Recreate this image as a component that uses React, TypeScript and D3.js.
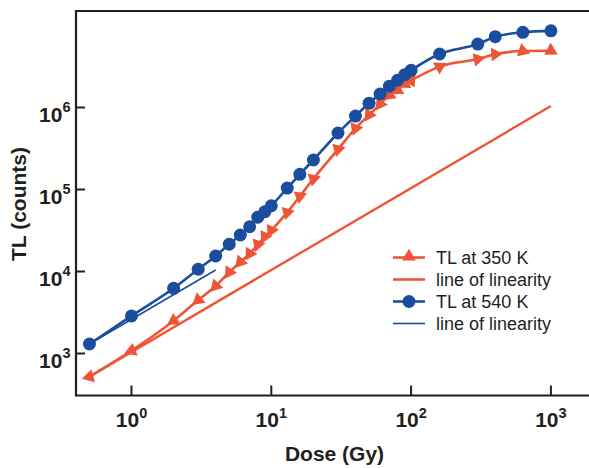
import React from 'react';
import * as d3 from 'd3';

// ---- data ----
const doses = [0.5, 1, 2, 3, 4, 5, 6, 7, 8, 9, 10, 13, 16, 20, 30, 40, 50, 60, 70, 80, 90, 100, 160, 300, 400, 630, 1000];
const tl350K = [521, 1082, 2510, 4490, 6650, 9780, 13060, 16500, 21300, 26700, 31800, 52500, 82600, 135000, 309000, 557000, 811000, 1.1e6, 1.41e6, 1.63e6, 1.94e6, 2.14e6, 3.15e6, 3.9e6, 4.46e6, 4.89e6, 4.93e6];
const tl540K = [1305, 2870, 6240, 10650, 15450, 21500, 27850, 35150, 46000, 53600, 63400, 104000, 153000, 229000, 489000, 787000, 1.125e6, 1.46e6, 1.82e6, 2.15e6, 2.51e6, 2.84e6, 4.49e6, 5.94e6, 7.3e6, 8.26e6, 8.6e6];
const linearity350Dose = [0.5, 1000];
const linearity350 = [521, 1.042e6];
const linearity540Dose = [0.5, 4];
const linearity540 = [1305, 10440];
const xTickExponents = [0, 1, 2, 3];
const yTickExponents = [3, 4, 5, 6];
const legendLabels = ['TL at 350 K', 'line of linearity', 'TL at 540 K', 'line of linearity'];
const xTitle = 'Dose (Gy)';
const yTitle = 'TL (counts)';

// ---- layout ----
const W = 589;
const H = 468;
const AX_LEFT = 76;
const AX_RIGHT = 589;
const AX_TOP = 11;
const AX_BOTTOM = 395.5;
const X_AT_1 = 131.5;
const X_DEC = 139.8;
const Y_AT_1E3 = 353.5;
const Y_DEC = 82;

const RED = '#ee5536';
const BLUE = '#1b4d9e';
const INK = '#231f20';
const FONT = '"Liberation Sans", Arial, Helvetica, sans-serif';

export default function App() {
  const x = d3
    .scaleLog()
    .domain([Math.pow(10, (AX_LEFT - X_AT_1) / X_DEC), Math.pow(10, (AX_RIGHT - X_AT_1) / X_DEC)])
    .range([AX_LEFT, AX_RIGHT]);
  const y = d3
    .scaleLog()
    .domain([
      Math.pow(10, 3 - (AX_BOTTOM - Y_AT_1E3) / Y_DEC),
      Math.pow(10, 3 + (Y_AT_1E3 - AX_TOP) / Y_DEC),
    ])
    .range([AX_BOTTOM, AX_TOP]);

  const pts350 = doses.map((d, i) => [x(d), y(tl350K[i])] as [number, number]);
  const pts540 = doses.map((d, i) => [x(d), y(tl540K[i])] as [number, number]);
  const lin350 = linearity350Dose.map((d, i) => [x(d), y(linearity350[i])] as [number, number]);
  const lin540 = linearity540Dose.map((d, i) => [x(d), y(linearity540[i])] as [number, number]);

  const curve = d3.line().curve(d3.curveMonotoneX);
  const straight = d3.line();

  const tri = d3.symbol(d3.symbolTriangle, 80)() as string;
  const triLegend = d3.symbol(d3.symbolTriangle, 80)() as string;

  const triRot = (i: number) => {
    const p = pts350[Math.max(0, i - 1)];
    const n = pts350[Math.min(pts350.length - 1, i + 1)];
    const theta = (Math.atan2(-(n[1] - p[1]), n[0] - p[0]) * 180) / Math.PI;
    return -3.3 * theta;
  };

  const legendX0 = 393;
  const legendX1 = 425;
  const legendTextX = 436;
  const legendY0 = 257.5;
  const legendDY = 22;

  return (
    <svg
      width={W}
      height={H}
      style={{ position: 'absolute', left: 0, top: 0, background: '#fff' }}
      fontFamily={FONT}
    >
      <rect x={0} y={0} width={W} height={H} fill="#fff" />

      {/* linearity lines */}
      <path d={straight(lin350) as string} fill="none" stroke={RED} strokeWidth={2.4} />
      <path d={straight(lin540) as string} fill="none" stroke={BLUE} strokeWidth={1.6} />

      {/* data lines */}
      <path d={curve(pts350) as string} fill="none" stroke={RED} strokeWidth={2.6} />
      <path d={curve(pts540) as string} fill="none" stroke={BLUE} strokeWidth={2.6} />

      {/* markers */}
      {pts350.map((p, i) => (
        <path key={'t' + i} d={tri} fill={RED} transform={`translate(${p[0]},${p[1]}) rotate(${triRot(i)})`} />
      ))}
      {pts540.map((p, i) => (
        <circle key={'c' + i} cx={p[0]} cy={p[1]} r={6.5} fill={BLUE} />
      ))}

      {/* axes frame */}
      <g stroke={INK} strokeWidth={2.2} fill="none">
        <line x1={AX_LEFT} x2={W} y1={AX_TOP} y2={AX_TOP} />
        <line x1={AX_LEFT} x2={AX_LEFT} y1={AX_TOP - 1.1} y2={AX_BOTTOM + 1.1} />
        <line x1={AX_LEFT} x2={W} y1={AX_BOTTOM} y2={AX_BOTTOM} />
        {xTickExponents.map((e) => (
          <line key={'xt' + e} x1={x(Math.pow(10, e))} x2={x(Math.pow(10, e))} y1={AX_BOTTOM} y2={AX_BOTTOM - 10} strokeWidth={2} />
        ))}
        {yTickExponents.map((e) => (
          <line key={'yt' + e} x1={AX_LEFT} x2={AX_LEFT + 9} y1={y(Math.pow(10, e))} y2={y(Math.pow(10, e))} strokeWidth={2} />
        ))}
      </g>

      {/* tick labels */}
      {xTickExponents.map((e) => (
        <text key={'xl' + e} x={x(Math.pow(10, e))} y={426.5} textAnchor="middle" fontWeight="bold" fontSize={21} fill={INK}>
          <tspan>10</tspan>
          <tspan dy={-8.5} fontSize={14.5}>{e}</tspan>
        </text>
      ))}
      {yTickExponents.map((e) => (
        <text key={'yl' + e} x={70.5} y={y(Math.pow(10, e)) + 14.4} textAnchor="end" fontWeight="bold" fontSize={21} fill={INK}>
          <tspan>10</tspan>
          <tspan dy={-9.5} fontSize={14.5}>{e}</tspan>
        </text>
      ))}

      {/* axis titles */}
      <text x={334.5} y={460.5} textAnchor="middle" fontWeight="bold" fontSize={21} fill={INK}>
        {xTitle}
      </text>
      <text
        transform={`translate(25.5,204) rotate(-90)`}
        textAnchor="middle"
        fontWeight="bold"
        fontSize={21}
        fill={INK}
      >
        {yTitle}
      </text>

      {/* legend */}
      {legendLabels.map((lab, i) => {
        const ly = legendY0 + i * legendDY;
        const color = i < 2 ? RED : BLUE;
        const sw = i === 3 ? 1.6 : 2.6;
        return (
          <g key={'lg' + i}>
            <line x1={legendX0} x2={legendX1} y1={ly} y2={ly} stroke={color} strokeWidth={sw} />
            {i === 0 && <path d={triLegend} fill={RED} transform={`translate(${(legendX0 + legendX1) / 2},${ly - 1})`} />}
            {i === 2 && <circle cx={(legendX0 + legendX1) / 2} cy={ly} r={6.5} fill={BLUE} />}
            <text x={legendTextX} y={ly + 6.8} fontSize={18} fill={INK}>
              {lab}
            </text>
          </g>
        );
      })}
    </svg>
  );
}
